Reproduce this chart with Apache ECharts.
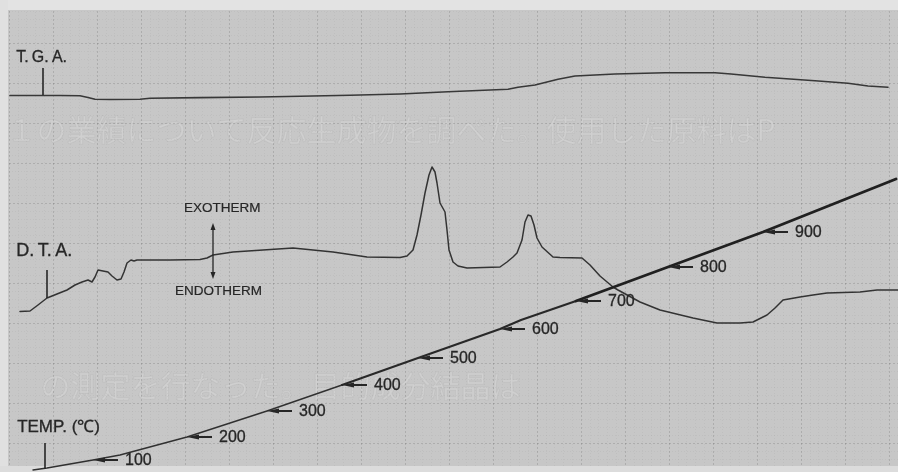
<!DOCTYPE html>
<html>
<head>
<meta charset="utf-8">
<script src="https://cdn.jsdelivr.net/npm/echarts@6/dist/echarts.min.js"></script>
<style>
  html, body { margin: 0; padding: 0; background: #e2e2e2; }
  #chart { width: 898px; height: 472px; }
</style>
</head>
<body>
<div id="chart"></div>
<script>
// Recorder chart: horizontal = chart travel, vertical = pen position measured down from the top edge.

// Thermogravimetric trace
const tgaTrace = [
  [10, 95.5], [60, 95.5], [80, 95.8], [88, 97.5], [95, 99.3], [110, 99.5], [140, 99.3],
  [150, 98.3], [200, 97.6], [260, 97.0], [300, 96.3], [350, 95.3], [400, 94.0], [448, 91.7],
  [508, 89.3], [518, 87.3], [535, 85.0], [558, 79.3], [575, 76.0], [615, 74.0], [665, 72.7],
  [715, 72.7], [731, 74.0], [765, 77.3], [815, 80.7], [848, 83.3], [868, 86.0], [888, 87.3]
];

// Differential thermal trace
const dtaTrace = [
  [20, 311.5], [30, 311], [38, 305], [47, 298], [57, 294], [67, 290], [75, 285], [82, 282],
  [88, 280], [92, 282], [95, 277], [98, 270], [103, 271], [108, 272], [112, 276], [117, 280],
  [121, 279], [124, 272], [127, 263], [131, 260], [134, 261], [137, 260], [141, 260],
  [170, 260], [200, 259.5], [207, 258], [213, 255], [233, 252], [263, 250], [293, 248],
  [313, 250], [333, 252], [367, 257], [400, 257.5], [407, 256], [413, 250], [417, 235],
  [421, 215], [425, 193], [429, 175], [432, 167], [435, 172], [437, 183], [440, 203],
  [445, 212], [447, 230], [449, 250], [453, 262], [458, 266], [467, 268], [500, 267],
  [507, 262], [513, 257], [517, 253], [522, 240], [525, 222], [528, 215], [531, 216],
  [534, 225], [537, 238], [542, 247], [553, 257], [560, 257.5], [582, 258], [590, 265],
  [600, 276], [613, 287], [618, 290], [640, 302], [660, 310], [693, 318], [717, 323],
  [740, 323], [753, 322], [767, 315], [775, 308], [783, 300], [800, 297], [813, 295],
  [827, 293], [860, 292], [877, 290], [898, 290]
];

// Furnace temperature trace (drawn thin at first, heavier further up)
const tempTraceLow = [[33, 470], [47, 468], [93, 460], [120, 455], [187, 437], [267, 411], [342, 385]];
const tempTraceMid = [[342, 385], [418, 358], [500, 329], [521, 320], [576, 301]];
const tempTraceHigh = [[576, 301], [668, 267], [763, 232], [896, 179]];

// Temperature calibration marks (°C) on the temperature trace
const tempTickLabels = ['100', '200', '300', '400', '500', '600', '700', '800', '900'];
const tempTickTravel = [93, 187, 267, 342, 418, 500, 576, 668, 763];
const tempTickOffset = [460, 437, 411, 385, 358, 329, 301, 267, 232];

// Start marks of the three pens: travel, top, bottom
const startMarkTravel = [43, 47, 45];
const startMarkTop = [68, 270, 443];
const startMarkBottom = [95, 298, 469];

const INK = '#262626';
const FONT = '"Liberation Sans", Arial, sans-serif';
const CJK = '"Noto Sans CJK JP", sans-serif';

const chart = echarts.init(document.getElementById('chart'), null, { renderer: 'canvas' });

function traceSeries(data, width, color) {
  return {
    type: 'line', xAxisIndex: 1, yAxisIndex: 1, data: data,
    symbol: 'none', smooth: false, silent: true,
    lineStyle: { color: color, width: width, cap: 'round', join: 'round' },
    z: 5
  };
}

// faint print showing through from the reverse of the sheet
function showThrough(text, left, top, size) {
  return {
    type: 'text', left: left, top: top, z: 0,
    style: {
      text: text, font: size + 'px ' + CJK,
      fill: 'rgba(255,255,255,0.16)',
      stroke: 'rgba(90,90,90,0.07)', lineWidth: 1
    }
  };
}

chart.setOption({
  animation: false,
  backgroundColor: '#c7c7c7',
  grid: [
    // graph-paper ruling
    { left: 9, top: 3, right: 0, bottom: 6, show: false },
    // plotting area for the traces
    { left: 0, top: 0, right: 0, bottom: 0, show: false }
  ],
  xAxis: [
    {
      gridIndex: 0, type: 'value', min: 0, max: 889, interval: 44,
      axisLine: { show: false }, axisTick: { show: false }, axisLabel: { show: false },
      splitLine: { show: true, lineStyle: { color: 'rgba(70,70,70,0.2)', width: 1, type: [2, 2] } },
      minorTick: { show: false, splitNumber: 5 },
      minorSplitLine: { show: true, lineStyle: { color: 'rgba(70,70,70,0.06)', width: 1, type: [1, 2] } }
    },
    {
      gridIndex: 1, type: 'value', min: 0, max: 898, show: false
    }
  ],
  yAxis: [
    {
      gridIndex: 0, type: 'value', min: 0, max: 463, interval: 40, inverse: true,
      axisLine: { show: false }, axisTick: { show: false }, axisLabel: { show: false },
      splitLine: { show: true, lineStyle: { color: 'rgba(70,70,70,0.2)', width: 1, type: [2, 2] } },
      minorTick: { show: false, splitNumber: 5 },
      minorSplitLine: { show: true, lineStyle: { color: 'rgba(70,70,70,0.06)', width: 1, type: [1, 2] } }
    },
    {
      gridIndex: 1, type: 'value', min: 0, max: 472, inverse: true, show: false
    }
  ],
  series: [
    traceSeries(tgaTrace, 1.6, '#383838'),
    traceSeries(dtaTrace, 1.5, '#333333'),
    traceSeries(tempTraceLow, 1.4, '#303030'),
    traceSeries(tempTraceMid, 2.1, '#282828'),
    traceSeries(tempTraceHigh, 2.9, '#202020'),
    {
      // temperature calibration arrows with their °C values
      type: 'custom', xAxisIndex: 1, yAxisIndex: 1, silent: true, z: 6,
      data: tempTickTravel.map((t, i) => [t, tempTickOffset[i]]),
      renderItem: function (params, api) {
        const p = api.coord([api.value(0), api.value(1)]);
        const lbl = tempTickLabels[params.dataIndex];
        return {
          type: 'group',
          children: [
            { type: 'polygon', shape: { points: [[p[0], p[1]], [p[0] + 12, p[1] - 2.6], [p[0] + 12, p[1] + 2.6]] },
              style: { fill: INK } },
            { type: 'line', shape: { x1: p[0] + 10, y1: p[1], x2: p[0] + 25, y2: p[1] },
              style: { stroke: INK, lineWidth: 2 } },
            { type: 'text', x: p[0] + 32, y: p[1] + 1,
              style: { text: lbl, font: '16px ' + FONT, fill: INK, verticalAlign: 'middle', align: 'left',
                       stroke: INK, lineWidth: 0.3 } }
          ]
        };
      }
    },
    {
      // pen start marks
      type: 'custom', xAxisIndex: 1, yAxisIndex: 1, silent: true, z: 6,
      data: startMarkTravel.map((t, i) => [t, startMarkTop[i], startMarkBottom[i]]),
      renderItem: function (params, api) {
        const a = api.coord([api.value(0), api.value(1)]);
        const b = api.coord([api.value(0), api.value(2)]);
        return { type: 'line', shape: { x1: a[0], y1: a[1], x2: b[0], y2: b[1] },
                 style: { stroke: INK, lineWidth: 1.6 } };
      }
    }
  ],
  graphic: {
    elements: [
      showThrough('１の業績について反応生成物を調べた。使用した原料はP', 6, 114, 30),
      showThrough('の測定を行なった。目的成分結晶は', 40, 370, 30),

      // unprinted margins of the sheet
      { type: 'rect', left: 0, top: 0, shape: { width: 898, height: 10 }, style: { fill: '#e3e3e3' }, z: 1 },
      { type: 'rect', left: 0, top: 0, shape: { width: 8, height: 472 }, style: { fill: '#e0e0e0' }, z: 1 },
      { type: 'rect', left: 0, top: 466, shape: { width: 898, height: 6 }, style: { fill: '#dcdcdc' }, z: 1 },

      // trace captions
      { type: 'text', left: 16, top: 49, z: 10,
        style: { text: 'T.\u2009G.\u2009A.', font: '16px ' + FONT, fill: INK, stroke: INK, lineWidth: 0.3 } },
      { type: 'text', left: 16, top: 242, z: 10,
        style: { text: 'D.\u2009T.\u2009A.', font: '18px ' + FONT, fill: INK, stroke: INK, lineWidth: 0.3 } },
      { type: 'text', left: 17, top: 419, z: 10,
        style: { text: 'TEMP. (\u2103)', font: '17px ' + FONT, fill: INK, stroke: INK, lineWidth: 0.3 } },

      // heat-flow direction indicator
      { type: 'text', left: 184, top: 201, z: 10,
        style: { text: 'EXOTHERM', font: '13.5px ' + FONT, fill: INK, stroke: INK, lineWidth: 0.2 } },
      { type: 'text', left: 175, top: 284, z: 10,
        style: { text: 'ENDOTHERM', font: '13.5px ' + FONT, fill: INK, stroke: INK, lineWidth: 0.2 } },
      { type: 'line', z: 10, shape: { x1: 213, y1: 226, x2: 213, y2: 276 }, style: { stroke: INK, lineWidth: 1.3 } },
      { type: 'polygon', z: 10, shape: { points: [[213, 223], [210.5, 230], [215.5, 230]] }, style: { fill: INK } },
      { type: 'polygon', z: 10, shape: { points: [[213, 279], [210.5, 272], [215.5, 272]] }, style: { fill: INK } }
    ]
  }
});
</script>
</body>
</html>
